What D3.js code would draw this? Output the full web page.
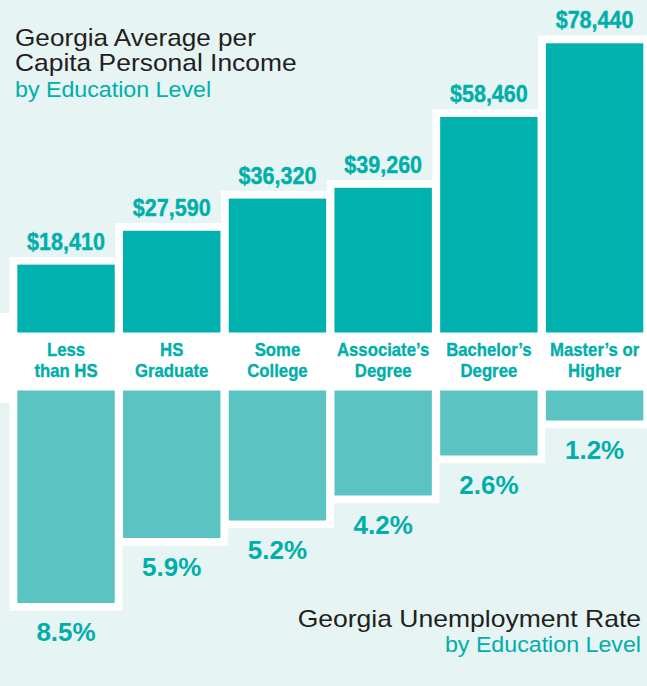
<!DOCTYPE html>
<html>
<head>
<meta charset="utf-8">
<script src="https://cdn.jsdelivr.net/npm/d3@7"></script>
<style>
  html, body { margin: 0; padding: 0; background: #e6f4f4; }
  svg { display: block; }
</style>
</head>
<body>
<svg id="chart" width="647" height="686"></svg>
<script>
// Education levels (two-line labels) and the two series drawn for each
const categories = ["Less than HS", "HS Graduate", "Some College", "Associate’s Degree", "Bachelor’s Degree", "Master’s or Higher"];
const categoryLines = [["Less", "than HS"], ["HS", "Graduate"], ["Some", "College"], ["Associate’s", "Degree"], ["Bachelor’s", "Degree"], ["Master’s or", "Higher"]];
const incomeValues = [18410, 27590, 36320, 39260, 58460, 78440];
const unemploymentValues = [8.5, 5.9, 5.2, 4.2, 2.6, 1.2];
const incomeLabels = ["$18,410", "$27,590", "$36,320", "$39,260", "$58,460", "$78,440"];
const unemploymentLabels = ["8.5%", "5.9%", "5.2%", "4.2%", "2.6%", "1.2%"];

const W = 647, H = 686;
const BG = "#e6f4f4", DARK = "#00b1ae", LIGHT = "#5bc4c3", TEAL_TEXT = "#00aeaa", INK = "#231f20";
const sans = "'Liberation Sans', Arial, Helvetica, sans-serif";

const svg = d3.select("#chart");

const x = d3.scaleBand()
  .domain(categories)
  .range([17.3, 643.3])
  .paddingInner(0.0785)
  .paddingOuter(0);

const incomeBase = 332.5, rateBase = 390.5;
const yIncome = d3.scaleLinear().domain([0, 78440]).range([incomeBase, 43.3]);
const yRate = d3.scaleLinear().domain([0, 8.5]).range([rateBase, rateBase + 212.5]);

const rows = categories.map((c, i) => ({
  cat: c,
  lines: categoryLines[i],
  income: incomeValues[i],
  rate: unemploymentValues[i],
  incomeLabel: incomeLabels[i],
  rateLabel: unemploymentLabels[i]
}));

const cx = d => x(d.cat) + x.bandwidth() / 2;
const pad = 7.7;

// text placed at (tx, ty) and stretched horizontally by sx
function label(g, tx, ty, sx, opts) {
  const t = g.append("text")
    .attr("transform", `translate(${tx},${ty}) scale(${sx},1)`)
    .attr("text-anchor", opts.anchor || "start")
    .attr("font-family", sans)
    .attr("font-weight", opts.weight || "normal")
    .attr("font-size", opts.size)
    .attr("fill", opts.fill)
    .text(opts.text);
  if (opts.heavy) {
    t.attr("stroke", opts.fill).attr("stroke-width", opts.heavy).attr("stroke-linejoin", "round");
  }
  return t;
}

// background
svg.append("rect").attr("width", W).attr("height", H).attr("fill", BG);

// white label band across the middle
svg.append("rect")
  .attr("x", 0).attr("y", 313).attr("width", W).attr("height", 90)
  .attr("fill", "#fff");

// white frame behind each column pair
svg.append("g").selectAll("rect").data(rows).join("rect")
  .attr("x", d => x(d.cat) - pad)
  .attr("y", d => yIncome(d.income) - pad)
  .attr("width", x.bandwidth() + 2 * pad)
  .attr("height", d => yRate(d.rate) + pad - (yIncome(d.income) - pad))
  .attr("fill", "#fff");

// income bars (upward)
svg.append("g").selectAll("rect").data(rows).join("rect")
  .attr("x", d => x(d.cat))
  .attr("y", d => yIncome(d.income))
  .attr("width", x.bandwidth())
  .attr("height", d => incomeBase - yIncome(d.income))
  .attr("fill", DARK);

// unemployment bars (downward)
svg.append("g").selectAll("rect").data(rows).join("rect")
  .attr("x", d => x(d.cat))
  .attr("y", rateBase)
  .attr("width", x.bandwidth())
  .attr("height", d => yRate(d.rate) - rateBase)
  .attr("fill", LIGHT);

// income value labels (condensed bold)
const incomeG = svg.append("g");
rows.forEach(d => label(incomeG, cx(d), yIncome(d.income) - 15, 0.88,
  { anchor: "middle", weight: "bold", size: 24.5, fill: TEAL_TEXT, text: d.incomeLabel, heavy: 0.4 }));

// unemployment value labels
const rateG = svg.append("g");
rows.forEach(d => label(rateG, cx(d), yRate(d.rate) + 38, 1,
  { anchor: "middle", weight: "bold", size: 26, fill: TEAL_TEXT, text: d.rateLabel }));

// category labels (two lines, condensed bold)
const catG = svg.append("g");
rows.forEach(d => d.lines.forEach((l, i) =>
  label(catG, cx(d), 355.5 + i * 21.5, 0.89,
    { anchor: "middle", weight: "bold", size: 18.8, fill: TEAL_TEXT, text: l, heavy: 0.35 })));

// titles
const titleG = svg.append("g");
label(titleG, 15, 46, 1.09, { size: 24, fill: INK, text: "Georgia Average per" });
label(titleG, 15, 71, 1.1, { size: 24, fill: INK, text: "Capita Personal Income" });
label(titleG, 15, 97, 1.08, { size: 21.5, fill: TEAL_TEXT, text: "by Education Level" });

label(titleG, 641, 627, 1.105, { anchor: "end", size: 24, fill: INK, text: "Georgia Unemployment Rate" });
label(titleG, 641, 652, 1.08, { anchor: "end", size: 21.5, fill: TEAL_TEXT, text: "by Education Level" });
</script>
</body>
</html>
